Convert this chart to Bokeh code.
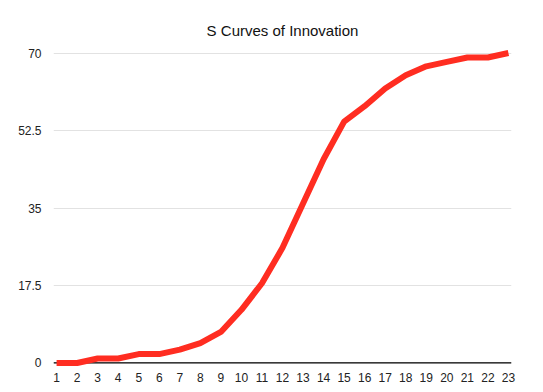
from bokeh.plotting import figure
from bokeh.models import Span, FixedTicker, Range1d
from bokeh.embed import file_html
from bokeh.resources import INLINE

x_vals = list(range(1, 24))
adoption = [0, 0, 1, 1, 2, 2, 3, 4.5, 7, 12, 18, 26, 36, 46, 54.5, 58, 62, 65, 67, 68, 69, 69, 70]
y_ticks = [0, 17.5, 35, 52.5, 70]
y_tick_labels = {0: "0", 17.5: "17.5", 35: "35", 52.5: "52.5", 70: "70"}
title_text = "S Curves of Innovation"

p = figure(width=527, height=384, output_backend="svg", toolbar_location=None,
           title=title_text,
           x_range=Range1d(0.85, 23.15), y_range=Range1d(-0.8, 70.8),
           min_border_left=53, min_border_right=16, min_border_top=49, min_border_bottom=10)
p.outline_line_color = None
p.background_fill_color = "white"
p.border_fill_color = "white"

p.title.text_font = "Liberation Sans"
p.title.text_font_size = "15px"
p.title.text_font_style = "normal"
p.title.align = "center"
p.title.text_color = "#111111"
p.title.standoff = 22

# axes
p.xaxis.ticker = FixedTicker(ticks=x_vals)
p.xaxis.axis_line_color = None
p.xaxis.major_tick_line_color = None
p.xaxis.minor_tick_line_color = None
p.xaxis.major_tick_out = 0
p.xaxis.major_tick_in = 0
p.xaxis.major_label_standoff = 6
p.xaxis.major_label_text_font = "Liberation Sans"
p.xaxis.major_label_text_font_size = "12px"
p.xaxis.major_label_text_color = "#222222"

p.yaxis.ticker = FixedTicker(ticks=y_ticks)
p.yaxis.major_label_overrides = y_tick_labels
p.yaxis.axis_line_color = None
p.yaxis.major_tick_line_color = None
p.yaxis.minor_tick_line_color = None
p.yaxis.major_tick_out = 0
p.yaxis.major_tick_in = 0
p.yaxis.major_label_standoff = 12
p.yaxis.major_label_text_font = "Liberation Sans"
p.yaxis.major_label_text_font_size = "12px"
p.yaxis.major_label_text_color = "#222222"

p.xgrid.grid_line_color = None
p.ygrid.grid_line_color = "#e2e2e2"
p.ygrid.grid_line_width = 1

zero_line = Span(location=0, dimension="width", line_color="black", line_width=1.2, level="underlay")
p.add_layout(zero_line)

p.line(x_vals, adoption, line_color="#ff2d21", line_width=6, line_join="round", line_cap="butt")

open("out.html", "w").write(file_html(p, INLINE))
